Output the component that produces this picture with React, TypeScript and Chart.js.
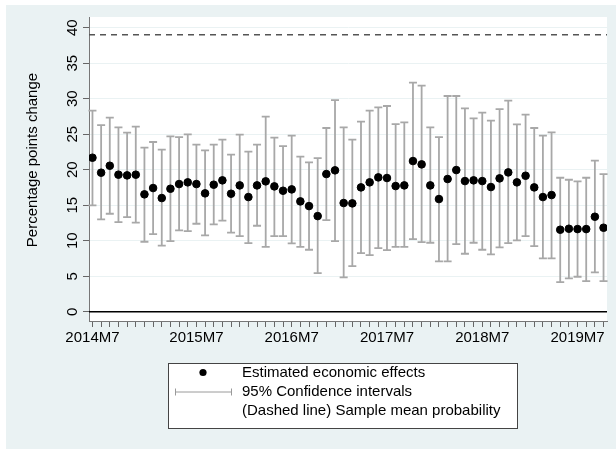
import React, { useEffect, useRef } from 'react';
import { Chart, registerables } from 'chart.js';

Chart.register(...registerables);

// ---- data ----
const estimates = [
  21.69, 19.58, 20.56, 19.3, 19.2, 19.3, 16.53, 17.42, 16.01, 17.32, 17.98, 18.22, 17.98, 16.67, 17.89, 18.5, 16.62, 17.79, 16.15, 17.79,
  18.36, 17.65, 17.04, 17.23, 15.54, 14.88, 13.47, 19.39, 19.91, 15.31, 15.26, 17.51, 18.22, 18.92, 18.83, 17.7, 17.79, 21.22, 20.75, 17.79,
  15.87, 18.69, 19.95, 18.4, 18.5, 18.4, 17.56, 18.78, 19.62, 18.22, 19.15, 17.51, 16.15, 16.43, 11.55, 11.69, 11.64, 11.64, 13.38, 11.83,
];
const upperCI = [
  28.31, 26.29, 27.32, 25.96, 25.21, 26.06, 23.1, 23.9, 22.82, 24.69, 24.6, 24.98, 23.52, 22.72, 23.52, 24.23, 22.11, 24.93, 22.54, 23.52,
  27.46, 24.51, 23.33, 24.79, 21.83, 21.03, 21.64, 25.87, 29.81, 25.96, 24.23, 26.76, 28.31, 28.78, 28.97, 26.43, 26.67, 32.25, 31.83, 25.96,
  24.6, 30.38, 30.38, 28.64, 27.23, 28.03, 26.9, 28.54, 29.72, 26.38, 27.75, 25.87, 24.79, 25.26, 18.87, 18.59, 18.36, 18.87, 21.27, 19.39,
];
const lowerCI = [
  14.98, 13.0, 13.8, 12.63, 13.33, 12.54, 9.86, 10.94, 9.3, 9.95, 11.46, 11.36, 12.39, 10.75, 12.3, 12.82, 11.13, 10.66, 9.67, 12.11,
  9.15, 10.66, 10.66, 9.62, 9.15, 8.73, 5.45, 12.91, 9.95, 4.84, 6.43, 8.26, 7.98, 8.97, 8.69, 9.15, 9.15, 10.23, 9.81, 9.72,
  7.09, 7.09, 9.53, 8.17, 9.72, 8.73, 8.08, 9.06, 9.67, 10.05, 10.66, 9.25, 7.51, 7.51, 4.18, 4.69, 4.93, 4.32, 5.54, 4.32,
];
const sampleMean = [39];
const zeroLine = [0];
const xLabelIndex = [0, 12, 23, 34, 45, 56];
const xLabels = ['2014M7', '2015M7', '2016M7', '2017M7', '2018M7', '2019M7'];
const yTicks = [0, 5, 10, 15, 20, 25, 30, 35, 40];
const yTitle = 'Percentage points change';
const legendLabels = ['Estimated economic effects', '95% Confidence intervals', '(Dashed line) Sample mean probability'];

const X_MIN = -0.4;
const X_MAX = 59.4;
const FONT = '"Liberation Sans", Arial, sans-serif';
const BG = '#EAF2F3';

export default function App() {
  const ref = useRef<HTMLCanvasElement | null>(null);

  useEffect(() => {
    const canvas = ref.current;
    if (!canvas) return;

    const bgPlugin = {
      id: 'bg',
      beforeDraw(chart: any) {
        const { ctx, chartArea } = chart;
        ctx.save();
        ctx.fillStyle = '#ffffff';
        ctx.fillRect(0, 0, chart.width, chart.height);
        ctx.fillStyle = BG;
        ctx.fillRect(6, 5, chart.width - 6, 444);
        ctx.fillStyle = '#ffffff';
        ctx.fillRect(chartArea.left, chartArea.top, chartArea.right - chartArea.left, chartArea.bottom - chartArea.top);
        ctx.restore();
      },
    };

    const errPlugin = {
      id: 'errbars',
      beforeDatasetsDraw(chart: any) {
        const { ctx } = chart;
        const xs = chart.scales.x;
        const ys = chart.scales.y;
        ctx.save();
        ctx.strokeStyle = '#A8A8A8';
        ctx.lineWidth = 1.8;
        for (let i = 0; i < estimates.length; i++) {
          const px = xs.getPixelForValue(i);
          const yl = ys.getPixelForValue(lowerCI[i]);
          const yh = ys.getPixelForValue(upperCI[i]);
          ctx.beginPath();
          ctx.moveTo(px, yl);
          ctx.lineTo(px, yh);
          ctx.moveTo(px - 4, yl);
          ctx.lineTo(px + 4, yl);
          ctx.moveTo(px - 4, yh);
          ctx.lineTo(px + 4, yh);
          ctx.stroke();
        }
        ctx.restore();
      },
    };

    const textPlugin = {
      id: 'texts',
      afterDraw(chart: any) {
        const { ctx } = chart;
        const ys = chart.scales.y;
        ctx.save();
        ctx.fillStyle = '#000';
        ctx.font = `15px ${FONT}`;
        ctx.textAlign = 'center';
        ctx.textBaseline = 'middle';
        yTicks.forEach((v) => {
          const py = ys.getPixelForValue(v);
          ctx.save();
          ctx.translate(73, py);
          ctx.rotate(-Math.PI / 2);
          ctx.fillText(String(v), 0, 0);
          ctx.restore();
        });
        ctx.save();
        ctx.translate(33, 160);
        ctx.rotate(-Math.PI / 2);
        ctx.fillText(yTitle, 0, 0);
        ctx.restore();

        // legend
        ctx.fillStyle = '#fff';
        ctx.fillRect(168.5, 363.5, 349, 65);
        ctx.strokeStyle = '#444';
        ctx.lineWidth = 1;
        ctx.strokeRect(168.5, 363.5, 349, 65);
        const rows = [372.5, 391.5, 411];
        ctx.fillStyle = '#000';
        ctx.beginPath();
        ctx.arc(203, rows[0], 3.6, 0, Math.PI * 2);
        ctx.fill();
        ctx.strokeStyle = '#9a9a9a';
        ctx.lineWidth = 1;
        ctx.beginPath();
        ctx.moveTo(175, rows[1] + 0.5);
        ctx.lineTo(232, rows[1] + 0.5);
        ctx.moveTo(175.5, rows[1] - 3);
        ctx.lineTo(175.5, rows[1] + 4);
        ctx.moveTo(231.5, rows[1] - 3);
        ctx.lineTo(231.5, rows[1] + 4);
        ctx.stroke();
        ctx.textAlign = 'left';
        ctx.fillStyle = '#000';
        legendLabels.forEach((t, i) => ctx.fillText(t, 242, rows[i]));
        ctx.restore();
      },
    };

    const chart = new Chart(canvas, {
      type: 'scatter',
      data: {
        datasets: [
          {
            label: legendLabels[0],
            data: estimates.map((y, i) => ({ x: i, y })),
            backgroundColor: '#000',
            borderColor: '#000',
            pointRadius: 3.8,
            pointHoverRadius: 3.8,
            order: 0,
          },
          {
            type: 'line',
            label: 'zero',
            data: [{ x: X_MIN, y: zeroLine[0] }, { x: X_MAX, y: zeroLine[0] }],
            borderColor: '#000',
            borderWidth: 1.6,
            pointRadius: 0,
            order: 2,
          },
          {
            type: 'line',
            label: legendLabels[2],
            data: [{ x: X_MIN, y: sampleMean[0] }, { x: X_MAX, y: sampleMean[0] }],
            borderColor: '#555',
            borderWidth: 1.3,
            borderDash: [6, 5],
            pointRadius: 0,
            order: 2,
          },
        ] as any,
      },
      options: {
        animation: false,
        responsive: false,
        maintainAspectRatio: false,
        events: [],
        layout: { padding: { left: 0, top: 17, right: 9, bottom: 0 } },
        plugins: { legend: { display: false }, tooltip: { enabled: false } },
        scales: {
          x: {
            type: 'linear',
            min: X_MIN,
            max: X_MAX,
            afterBuildTicks: (s: any) => {
              s.ticks = estimates.map((_, i) => ({ value: i }));
            },
            afterFit: (s: any) => {
              s.height = 131;
            },
            grid: { drawOnChartArea: false, drawTicks: true, tickLength: 6, tickColor: '#666', tickWidth: 1 },
            border: { color: '#777', width: 1 },
            ticks: {
              autoSkip: false,
              maxRotation: 0,
              minRotation: 0,
              padding: 2,
              color: '#000',
              font: { family: FONT, size: 15 },
              callback: (v: any) => {
                const k = xLabelIndex.indexOf(Number(v));
                return k >= 0 ? xLabels[k] : '';
              },
            },
          },
          y: {
            type: 'linear',
            min: -1.3,
            max: 41.5,
            afterBuildTicks: (s: any) => {
              s.ticks = yTicks.map((v) => ({ value: v }));
            },
            afterFit: (s: any) => {
              s.width = 89;
            },
            grid: { color: BG, lineWidth: 1, drawTicks: true, tickLength: 6, tickColor: '#666', tickWidth: 1 },
            border: { color: '#777', width: 1 },
            ticks: { display: false },
          },
        },
      } as any,
      plugins: [bgPlugin, errPlugin, textPlugin],
    });

    return () => chart.destroy();
  }, []);

  return (
    <div style={{ position: 'absolute', left: 0, top: 0, width: 616, height: 452 }}>
      <canvas ref={ref} width={616} height={452} style={{ width: 616, height: 452, display: 'block' }} />
    </div>
  );
}
